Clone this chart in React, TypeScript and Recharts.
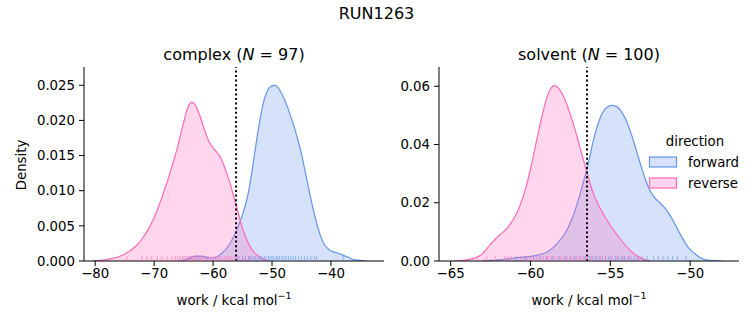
import React from "react";
import {
  ComposedChart, Area, Scatter, XAxis, YAxis, ReferenceLine,
} from "recharts";

// KDE curves: [work, density]
const complexForward: [number, number][] = [
  [-66, 0], [-65, 0.0001], [-64, 0.0004], [-63, 0.0007], [-62, 0.0007], [-61, 0.0005],
  [-60, 0.0004], [-59.3, 0.0006], [-58.5, 0.0011], [-58, 0.0015], [-57.5, 0.002],
  [-57, 0.0027], [-56.5, 0.0035], [-56, 0.0044], [-55.5, 0.0054], [-55, 0.0066],
  [-54.5, 0.008], [-54, 0.0098], [-53.5, 0.0122], [-53, 0.015], [-52.5, 0.0178],
  [-52, 0.0203], [-51.5, 0.0224], [-51, 0.0238], [-50.5, 0.0246], [-50, 0.0249],
  [-49.5, 0.025], [-49, 0.0247], [-48.5, 0.024], [-48, 0.0232], [-47.5, 0.0222],
  [-47, 0.021], [-46.4, 0.0195], [-45.7, 0.0175], [-45, 0.0152], [-44.3, 0.0124],
  [-43.6, 0.0096], [-43, 0.0073], [-42.4, 0.0053], [-41.7, 0.0034], [-41, 0.0022],
  [-40.3, 0.0016], [-39.6, 0.0013], [-38.8, 0.0011], [-37.9, 0.0008], [-37, 0.0005],
  [-36.2, 0.0002], [-35.3, 0.0001], [-34, 0],
];
const complexReverse: [number, number][] = [
  [-80.5, 0], [-79, 0.0001], [-78, 0.0002], [-77, 0.0004], [-76, 0.0006], [-75, 0.001],
  [-74, 0.0015], [-73, 0.0022], [-72, 0.0032], [-71, 0.0045], [-70, 0.0062], [-69, 0.0083],
  [-68, 0.0107], [-67, 0.0134], [-66, 0.0163], [-65, 0.0197], [-64.3, 0.0218],
  [-63.6, 0.0226], [-63, 0.0222], [-62.3, 0.0208], [-61.5, 0.0188], [-60.7, 0.017],
  [-60, 0.0161], [-59.3, 0.0154], [-58.7, 0.0147], [-58.2, 0.0137], [-57.7, 0.0125],
  [-57.2, 0.0113], [-56.8, 0.0101], [-56.4, 0.0089], [-56, 0.0077], [-55.5, 0.0061],
  [-55.1, 0.0049], [-54.5, 0.0035], [-54, 0.0025], [-53.3, 0.0015], [-52.6, 0.0009],
  [-52, 0.0005], [-51.3, 0.0002], [-50.3, 0],
];
const solventForward: [number, number][] = [
  [-63, 0], [-62.5, 0.0002], [-62, 0.0004], [-61.5, 0.0007], [-61, 0.001], [-60.5, 0.0013],
  [-60, 0.0016], [-59.5, 0.0021], [-59, 0.003], [-58.6, 0.0045], [-58.2, 0.0068],
  [-57.8, 0.0098], [-57.4, 0.0145], [-57, 0.021], [-56.7, 0.0268], [-56.4, 0.033],
  [-56.1, 0.0405], [-55.8, 0.0465], [-55.5, 0.0508], [-55.2, 0.0528], [-54.9, 0.0534],
  [-54.6, 0.053], [-54.3, 0.0512], [-54, 0.0482], [-53.7, 0.0438], [-53.4, 0.0385],
  [-53.1, 0.033], [-52.8, 0.028], [-52.5, 0.024], [-52.2, 0.0216], [-51.9, 0.02],
  [-51.6, 0.0183], [-51.3, 0.016], [-51, 0.0132], [-50.7, 0.01], [-50.4, 0.0071],
  [-50.1, 0.0045], [-49.7, 0.0025], [-49.4, 0.0012], [-49, 0.0004], [-48.5, 0.0001],
  [-48, 0],
];
const solventReverse: [number, number][] = [
  [-64.9, 0], [-64.5, 0.0001], [-64, 0.0004], [-63.5, 0.001], [-63, 0.0025],
  [-62.5, 0.0058], [-62, 0.0086], [-61.6, 0.0105], [-61.25, 0.0128], [-60.9, 0.016],
  [-60.6, 0.0198], [-60.3, 0.025], [-60, 0.0315], [-59.7, 0.0392], [-59.4, 0.0468],
  [-59.1, 0.0537], [-58.8, 0.0585], [-58.5, 0.0602], [-58.2, 0.059], [-57.9, 0.0562],
  [-57.6, 0.0518], [-57.3, 0.0468], [-57, 0.041], [-56.7, 0.035], [-56.4, 0.0292],
  [-56.1, 0.0238], [-55.8, 0.0198], [-55.4, 0.0158], [-55, 0.0122], [-54.5, 0.0085],
  [-54, 0.005], [-53.5, 0.0024], [-53, 0.0008], [-52.5, 0],
];

// rug samples (approximate positions of the tick marks)
const complexForwardRug = [
  -63.9, -62.5, -61.0, -56.2, -55.6, -55.0, -54.5, -54.0, -53.6, -53.2, -52.8, -52.4,
  -52.0, -51.7, -51.3, -51.0, -50.6, -50.3, -50.0, -49.7, -49.3, -49.0, -48.7, -48.3,
  -48.0, -47.6, -47.2, -46.8, -46.4, -46.0, -45.5, -45.0, -44.5, -44.0, -43.4, -42.8,
  -42.4, -37.9,
];
const complexReverseRug = [
  -74.6, -72.1, -71.2, -70.4, -69.5, -68.7, -67.8, -67.0, -66.4, -66.0, -65.6, -65.2,
  -64.9, -64.5, -64.2, -63.9, -63.6, -63.3, -63.0, -62.7, -62.4, -62.1, -61.8, -61.5,
  -61.1, -60.8, -60.4, -60.0, -59.6, -59.2, -58.8, -58.4, -58.0, -57.6, -57.2, -56.8,
  -56.3, -55.8, -54.9, -53.8,
];
const solventForwardRug = [
  -60.9, -60.3, -59.8, -59.4, -59.0, -58.6, -58.2, -57.8, -57.5, -57.2, -56.9, -56.6,
  -56.3, -56.1, -55.9, -55.7, -55.5, -55.3, -55.1, -54.9, -54.7, -54.5, -54.3, -54.1,
  -53.9, -53.7, -53.5, -53.3, -53.0, -52.7, -52.3, -52.0, -51.7, -51.4, -51.1, -50.8,
  -50.25,
];
const solventReverseRug = [
  -62.75, -62.2, -61.6, -61.4, -61.2, -60.6, -60.4, -60.2, -60.0, -59.8, -59.6, -59.4,
  -59.2, -59.0, -58.9, -58.7, -58.5, -58.3, -58.1, -57.9, -57.7, -57.5, -57.3, -57.1,
  -56.9, -56.7, -56.5, -56.2, -55.9, -55.6, -55.3, -55.0, -54.6, -54.2, -53.8, -53.2,
];

const complexXTicks = [-80, -70, -60, -50, -40];
const complexYTicks = [0, 0.005, 0.01, 0.015, 0.02, 0.025];
const solventXTicks = [-65, -60, -55, -50];
const solventYTicks = [0, 0.02, 0.04, 0.06];

const directions = ["forward", "reverse"];
const BLUE = "#6495ed";
const PINK = "#ff69b4";
const FONT = "DejaVu Sans, sans-serif";

const toRows = (pts: [number, number][]) => pts.map(([x, y]) => ({ x, y }));
const toRug = (vals: number[]) => vals.map((x) => ({ x, y: 0 }));
const minus = (v: number) => (v < 0 ? "\u2212" + Math.abs(v) : String(v));

function rugShape(color: string) {
  return (p: any) => (
    <line x1={p.cx} x2={p.cx} y1={p.cy} y2={p.cy - 5} stroke={color} strokeOpacity={0.6} strokeWidth={1} />
  );
}

interface PanelProps {
  left: number; width: number; plotL: number; plotR: number;
  xDomain: [number, number]; xTicks: number[];
  yDomain: [number, number]; yTicks: number[]; yDigits: number;
  fwd: [number, number][]; rev: [number, number][];
  fwdRug: number[]; revRug: number[]; refX: number;
}

function Panel(p: PanelProps) {
  const yW = 50;
  const tick = { fill: "#000", fontSize: 13.3, fontFamily: FONT };
  return (
    <div style={{ position: "absolute", left: p.left, top: 0 }}>
      <ComposedChart
        width={p.width}
        height={325}
        margin={{ top: 67, bottom: 34, left: p.plotL - p.left - yW, right: p.left + p.width - p.plotR }}
      >
        <XAxis
          type="number" dataKey="x" domain={p.xDomain} ticks={p.xTicks} allowDataOverflow
          tickFormatter={minus} tick={tick} tickSize={5} tickMargin={3}
          stroke="#000" height={30}
        />
        <YAxis
          type="number" dataKey="y" domain={p.yDomain} ticks={p.yTicks} allowDataOverflow
          tickFormatter={(v: number) => v.toFixed(p.yDigits)} tick={tick} tickSize={5} tickMargin={4}
          stroke="#000" width={yW}
        />
        <Area data={toRows(p.fwd)} dataKey="y" type="monotone" stroke={BLUE} strokeWidth={1.2}
          fill={BLUE} fillOpacity={0.27} isAnimationActive={false} dot={false} activeDot={false} />
        <Area data={toRows(p.rev)} dataKey="y" type="monotone" stroke={PINK} strokeWidth={1.2}
          fill={PINK} fillOpacity={0.27} isAnimationActive={false} dot={false} activeDot={false} />
        <Scatter data={toRug(p.fwdRug)} dataKey="y" shape={rugShape(BLUE)} isAnimationActive={false} />
        <Scatter data={toRug(p.revRug)} dataKey="y" shape={rugShape(PINK)} isAnimationActive={false} />
        <ReferenceLine x={p.refX} stroke="#000" strokeWidth={2} strokeDasharray="2 2.6" />
      </ComposedChart>
    </div>
  );
}

export default function App() {
  const txt = { fontFamily: FONT, fill: "#000" };
  return (
    <div style={{ position: "absolute", left: 0, top: 0, width: 753, height: 325, background: "#fff", overflow: "hidden" }}>
      <Panel
        left={0} width={390} plotL={84} plotR={384}
        xDomain={[-81.9, -31.0]} xTicks={complexXTicks}
        yDomain={[0, 0.0276]} yTicks={complexYTicks} yDigits={3}
        fwd={complexForward} rev={complexReverse}
        fwdRug={complexForwardRug} revRug={complexReverseRug} refX={-56.1}
      />
      <Panel
        left={390} width={363} plotL={439} plotR={739}
        xDomain={[-65.73, -46.94]} xTicks={solventXTicks}
        yDomain={[0, 0.0666]} yTicks={solventYTicks} yDigits={2}
        fwd={solventForward} rev={solventReverse}
        fwdRug={solventForwardRug} revRug={solventReverseRug} refX={-56.46}
      />
      <svg width={753} height={325} style={{ position: "absolute", left: 0, top: 0, pointerEvents: "none" }}>
        <text x={376.5} y={13} textAnchor="middle" dominantBaseline="central" fontSize={16} {...txt}>RUN1263</text>
        <text x={234} y={54} textAnchor="middle" dominantBaseline="central" fontSize={16} {...txt}>
          complex (<tspan fontStyle="italic">N</tspan> = 97)
        </text>
        <text x={589} y={54} textAnchor="middle" dominantBaseline="central" fontSize={16} {...txt}>
          solvent (<tspan fontStyle="italic">N</tspan> = 100)
        </text>
        <text x={21} y={165} textAnchor="middle" dominantBaseline="central" fontSize={13.3}
          transform="rotate(-90 21 165)" {...txt}>Density</text>
        {[234, 589].map((cx) => (
          <text key={cx} x={cx} y={300} textAnchor="middle" dominantBaseline="central" fontSize={13.3} {...txt}>
            work / kcal mol<tspan dy={-5} fontSize={9.5}>{"\u22121"}</tspan>
          </text>
        ))}
        <text x={695} y={141} textAnchor="middle" dominantBaseline="central" fontSize={13.3} {...txt}>direction</text>
        {directions.map((d, i) => {
          const c = i === 0 ? BLUE : PINK;
          const y = 162 + i * 21;
          return (
            <g key={d}>
              <rect x={649.5} y={y - 5} width={27} height={10} fill={c} fillOpacity={0.27} stroke={c} strokeWidth={1.2} />
              <text x={688} y={y} dominantBaseline="central" fontSize={13.3} {...txt}>{d}</text>
            </g>
          );
        })}
      </svg>
    </div>
  );
}
